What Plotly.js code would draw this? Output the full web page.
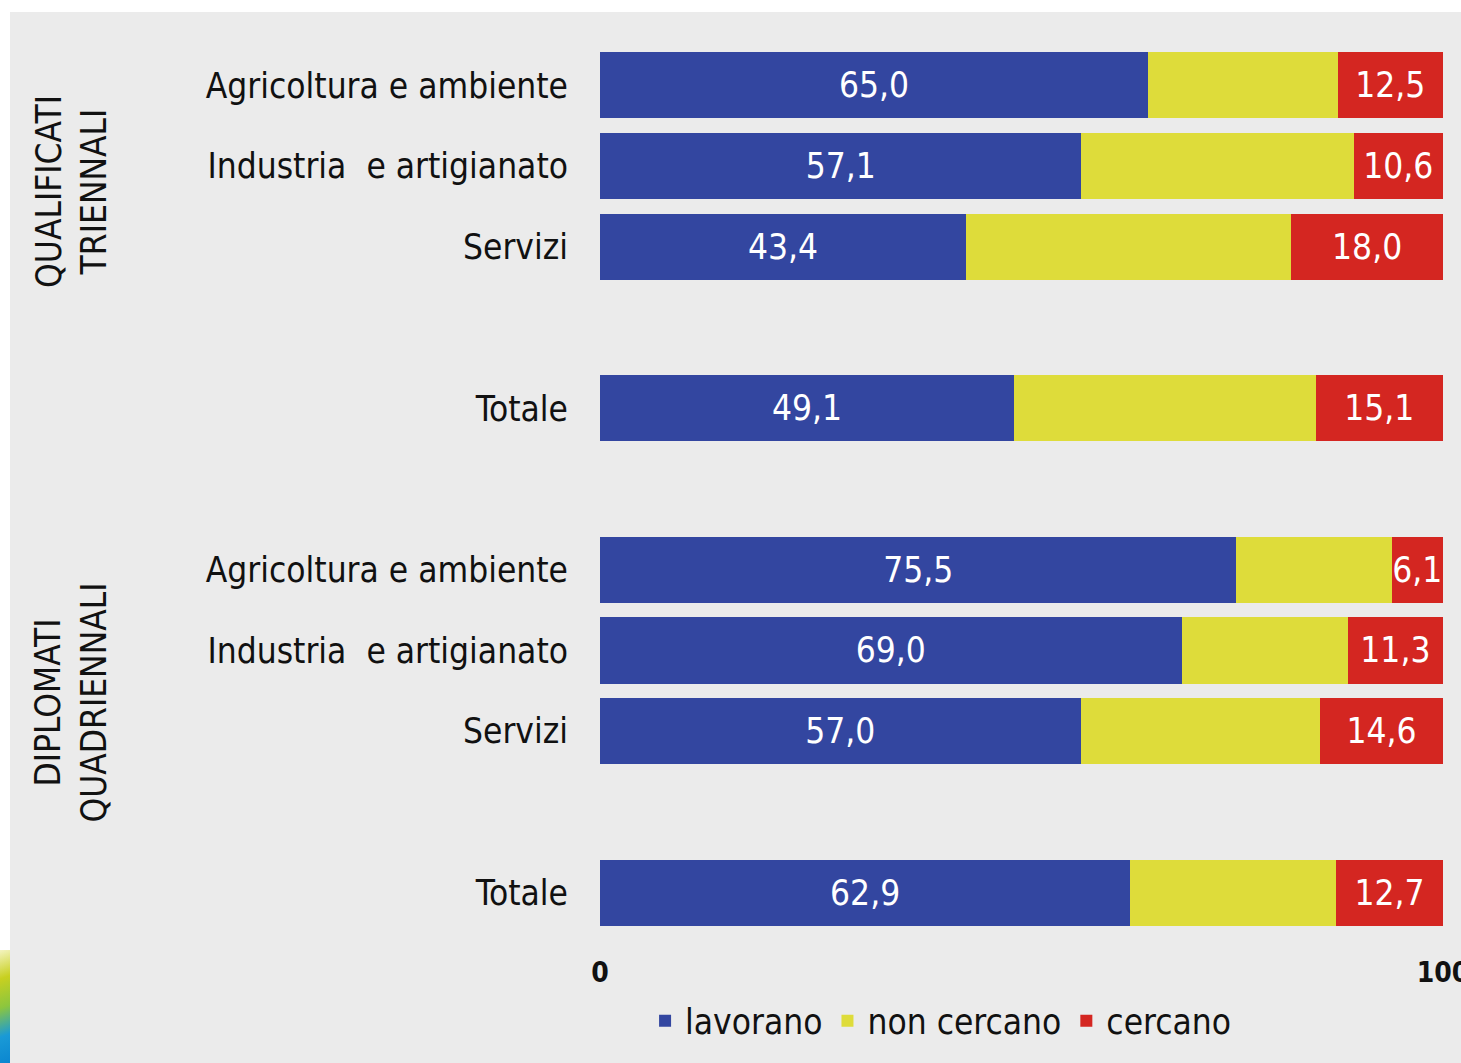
<!DOCTYPE html>
<html>
<head>
<meta charset="utf-8">
<script src="https://cdn.plot.ly/plotly-3.0.1.min.js"></script>
<style>
  html, body { margin: 0; padding: 0; background: #ffffff; overflow: hidden; }
  #chart { position: absolute; left: 10px; top: 12px; width: 1451px; height: 1051px; }
  #deco { position: absolute; left: 0; top: 950px; width: 10px; height: 113px;
          background: linear-gradient(160deg, #f4f4c0 0%, #c8d020 25%, #8cc63e 50%, #1a9ad6 75%, #0b86d0 100%); }
</style>
</head>
<body>
<div id="deco"></div>
<div id="chart"></div>
<script>
// Category keys (row order top to bottom, including blank gap rows)
const rowKeys = ["Q_agr", "Q_ind", "Q_ser", "gap1", "Q_tot", "gap2", "D_agr", "D_ind", "D_ser", "gap3", "D_tot"];
const rowLabels = ["Agricoltura e ambiente", "Industria  e artigianato", "Servizi", "", "Totale", "", "Agricoltura e ambiente", "Industria  e artigianato", "Servizi", "", "Totale"];

// Data rows (only rows with bars)
const barKeys = ["Q_agr", "Q_ind", "Q_ser", "Q_tot", "D_agr", "D_ind", "D_ser", "D_tot"];
const lavorano = [65.0, 57.1, 43.4, 49.1, 75.5, 69.0, 57.0, 62.9];
const cercano = [12.5, 10.6, 18.0, 15.1, 6.1, 11.3, 14.6, 12.7];
const nonCercano = [22.5, 32.3, 38.6, 35.8, 18.4, 19.7, 28.4, 24.4];

const groupLabels = ["QUALIFICATI<br>TRIENNALI", "DIPLOMATI<br>QUADRIENNALI"];
const xTickVals = [0, 100];
const xTickText = ['0', '100'];

const FONT = "'DejaVu Sans Condensed', 'DejaVu Sans', sans-serif";
const fmt = v => v.toFixed(1).replace('.', ',');

const traces = [
  {
    type: 'bar', orientation: 'h', name: 'lavorano',
    x: lavorano, y: barKeys,
    marker: { color: '#3346a0' },
    text: lavorano.map(fmt), textposition: 'inside', insidetextanchor: 'middle',
    textangle: 0, constraintext: 'none',
    textfont: { color: '#ffffff', size: 35, family: FONT },
    hoverinfo: 'x+name'
  },
  {
    type: 'bar', orientation: 'h', name: 'non cercano',
    x: nonCercano, y: barKeys,
    marker: { color: '#dedc3a' },
    hoverinfo: 'x+name'
  },
  {
    type: 'bar', orientation: 'h', name: 'cercano',
    x: cercano, y: barKeys,
    marker: { color: '#d42621' },
    text: cercano.map(fmt), textposition: 'inside', insidetextanchor: 'middle',
    textangle: 0, constraintext: 'none',
    textfont: { color: '#ffffff', size: 35, family: FONT },
    hoverinfo: 'x+name'
  }
];

const layout = {
  barmode: 'stack',
  bargap: 0.18,
  uniformtext: { mode: false },
  paper_bgcolor: '#ebebeb',
  plot_bgcolor: '#ebebeb',
  margin: { l: 590, r: 18, t: 33, b: 130 },
  font: { family: FONT, color: '#111111', size: 30 },
  showlegend: true,
  legend: {
    orientation: 'h', x: 0.404, xanchor: 'center',
    yref: 'container', y: 0.04, yanchor: 'middle',
    font: { size: 35, family: FONT, color: '#111111' },
    bgcolor: 'rgba(0,0,0,0)', itemwidth: 30, traceorder: 'normal'
  },
  xaxis: {
    range: [0, 100], tickvals: xTickVals, ticktext: xTickText,
    showgrid: false, zeroline: false, showline: false, ticks: '',
    ticklabeloverflow: 'allow', ticklabelstandoff: 20,
    tickfont: { size: 28, family: FONT, color: '#111111', weight: 'bold' },
    fixedrange: true
  },
  yaxis: {
    type: 'category', categoryorder: 'array', categoryarray: rowKeys,
    tickvals: rowKeys, ticktext: rowLabels,
    autorange: 'reversed',
    showgrid: false, zeroline: false, showline: false, ticks: 'outside', ticklen: 24, tickcolor: 'rgba(0,0,0,0)',
    tickfont: { size: 35, family: FONT, color: '#111111' },
    fixedrange: true
  },
  annotations: [
    { text: groupLabels[0], xref: 'paper', yref: 'paper', x: -0.627, y: 0.835, xanchor: 'center', yanchor: 'middle', textangle: -90,
      showarrow: false, font: { size: 35, family: FONT, color: '#111111' }, align: 'center' },
    { text: groupLabels[1], xref: 'paper', yref: 'paper', x: -0.627, y: 0.26, xanchor: 'center', yanchor: 'middle', textangle: -90,
      showarrow: false, font: { size: 35, family: FONT, color: '#111111' }, align: 'center' }
  ]
};

Plotly.newPlot('chart', traces, layout, { displayModeBar: false, staticPlot: true });
</script>
</body>
</html>
